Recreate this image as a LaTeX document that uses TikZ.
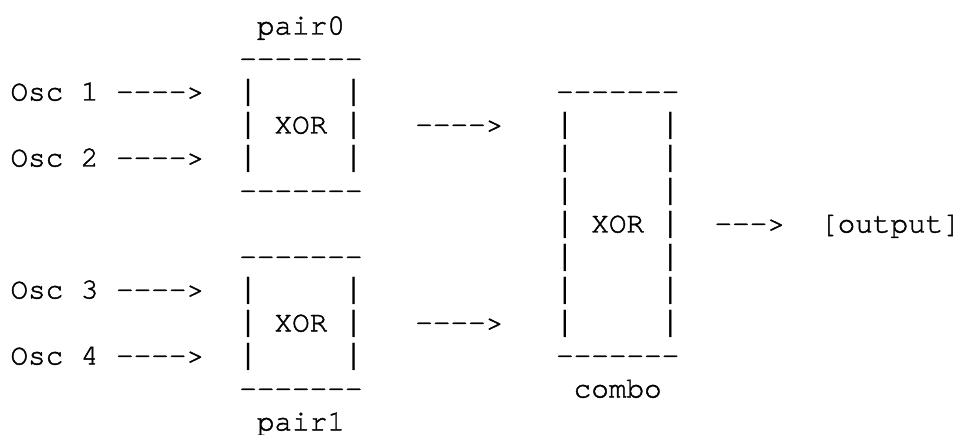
\documentclass[tikz,border=0pt]{standalone}
\usepackage{fontspec}
\newfontfamily\asciifont{TeX Gyre Cursor}[FakeBold=1.5]
\newfontfamily\barfont{Liberation Mono}
\begin{document}
% character grid: one column = 13.2pt, one row = 24.75pt (text at 22pt)
\begin{tikzpicture}[x=13.2pt, y=-24.75pt,
  txt/.style={anchor=base west, inner sep=0pt, outer sep=0pt,
    font=\asciifont\fontsize{22pt}{24.75pt}\selectfont, text=black},
  vbar/.style={txt, font=\barfont\fontsize{22pt}{24.75pt}\selectfont}]
\useasboundingbox[fill=white] (-0.59659,-1.04545) rectangle (54.00568,12.13636);

% inputs
\node[txt] (osc1) at (0,2)  {Osc 1 ---->};
\node[txt] (osc2) at (0,4)  {Osc 2 ---->};
\node[txt] (osc3) at (0,8)  {Osc 3 ---->};
\node[txt] (osc4) at (0,10) {Osc 4 ---->};

% first pair gate
\node[txt] (pair0)    at (14,0) {pair0};
\node[txt] (p0top)    at (13,1) {-------};
\node[txt] (p0xor)    at (15,3) {XOR};
\node[txt] (p0bottom) at (13,5) {-------};
\foreach \r in {2,3,4} {
  \node[vbar] (p0l\r) at (13,\r) {|};
  \node[vbar] (p0r\r) at (19,\r) {|};
}

% second pair gate
\node[txt] (p1top)    at (13,7)  {-------};
\node[txt] (p1xor)    at (15,9)  {XOR};
\node[txt] (p1bottom) at (13,11) {-------};
\node[txt] (pair1)    at (14,12) {pair1};
\foreach \r in {8,9,10} {
  \node[vbar] (p1l\r) at (13,\r) {|};
  \node[vbar] (p1r\r) at (19,\r) {|};
}

% pair outputs
\node[txt] (a0) at (23,3) {---->};
\node[txt] (a1) at (23,9) {---->};

% combining gate
\node[txt] (ctop)    at (31,2)  {-------};
\node[txt] (cxor)    at (33,6)  {XOR};
\node[txt] (cbottom) at (31,10) {-------};
\node[txt] (combo)   at (32,11) {combo};
\foreach \r in {3,...,9} {
  \node[vbar] (cl\r) at (31,\r) {|};
  \node[vbar] (cr\r) at (37,\r) {|};
}

% result
\node[txt] (aout)   at (40,6) {--->};
\node[txt] (output) at (46,6) {[output]};
\end{tikzpicture}
\end{document}
